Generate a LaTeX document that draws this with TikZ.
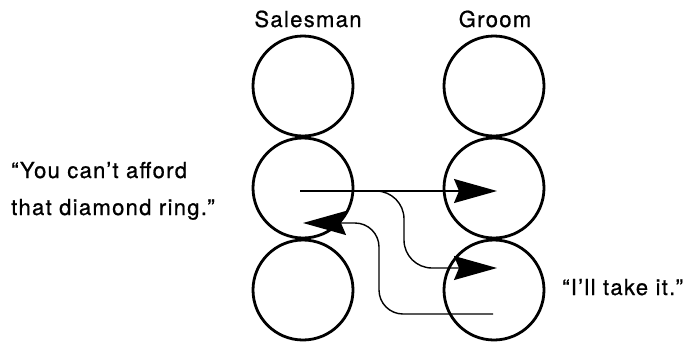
\documentclass[tikz,border=0pt]{standalone}
\usepackage{fontspec}
\setmainfont{TeX Gyre Heros}[LetterSpace=6, FakeBold=0.8]
\usetikzlibrary{arrows.meta}

\tikzset{
  person/.style={draw, circle, line width=2.8pt, minimum size=100pt, inner sep=0pt},
  talk/.style={line width=1.4pt, -{Stealth[length=43pt,width=24pt,inset=5pt]}},
  words/.style={font=\fontsize{22}{26}\selectfont, inner sep=0pt}
}

\begin{document}
\begin{tikzpicture}[x=1pt,y=-1pt]
\useasboundingbox (0,0) rectangle (700,343);

% salesman column
\node[person] (s1) at (303,86) {};
\node[person] (s2) at (303,188) {};
\node[person] (s3) at (303,290) {};

% groom column
\node[person] (g1) at (494,86) {};
\node[person] (g2) at (494,188) {};
\node[person] (g3) at (494,290) {};

\node[words, anchor=base] (salesman) at (308,27) {Salesman};
\node[words, anchor=base] (groom) at (495,27) {Groom};

% end points of the messages
\coordinate (sSay) at ([shift={(-3,3)}]s2.center);
\coordinate (sHear) at ([shift={(0,35)}]s2.center);
\coordinate (gHear) at ([shift={(3,3)}]g2.center);
\coordinate (gThink) at ([shift={(3,-22)}]g3.center);
\coordinate (gSay) at ([shift={(-1,24)}]g3.center);
\coordinate (bendA) at (404,230);
\coordinate (bendB) at (379,270);

\draw[talk] (sSay) -- (gHear);
\draw[talk, rounded corners=28pt] (sSay) -- (bendA |- sSay) -- (bendA |- gThink) -- (gThink);
\draw[talk, rounded corners=24pt] (gSay) -- (bendB |- gSay) -- (bendB |- sHear) -- (sHear);

\node[words, anchor=base west] (ring1) at (11,178) {“You can't afford};
\node[words, anchor=base west] (ring2) at (11,215) {that diamond ring.”};
\node[words, anchor=base west] (takeit) at (562,295) {“I'll take it.”};
\end{tikzpicture}
\end{document}
